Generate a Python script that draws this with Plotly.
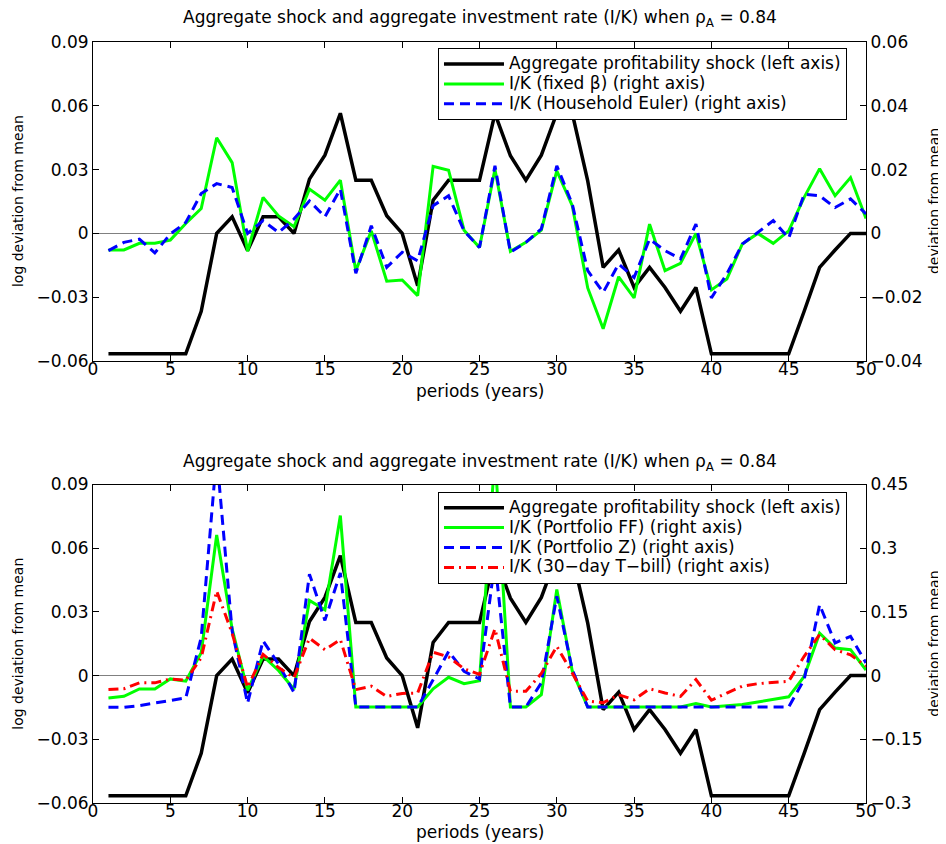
import plotly.graph_objects as go

periods = list(range(1, 51))

# Aggregate profitability shock (left axis) - same in both panels
shock = [-0.0566, -0.0566, -0.0566, -0.0566, -0.0566, -0.0566, -0.0366, 0.0, 0.0078, -0.0081,
         0.0078, 0.0078, 0.0, 0.0255, 0.0368, 0.0565, 0.025, 0.025, 0.0083, 0.0,
         -0.0246, 0.0156, 0.025, 0.025, 0.025, 0.0563, 0.0365, 0.025, 0.0368, 0.0565,
         0.0565, 0.0247, -0.016, -0.0078, -0.0254, -0.016, -0.0254, -0.0366, -0.0254, -0.0566,
         -0.0566, -0.0566, -0.0566, -0.0566, -0.0566, -0.0366, -0.016, -0.0078, 0.0, 0.0]

# Top panel, right axis
ik_fixed_beta = [-0.0052, -0.0052, -0.0031, -0.0031, -0.0021, 0.0031, 0.0078, 0.0300, 0.0222, -0.0056,
                 0.0113, 0.0055, 0.0021, 0.0139, 0.0104, 0.0167, -0.0117, 0.0008, -0.0150, -0.0146,
                 -0.0195, 0.0210, 0.0198, 0.0010, -0.0044, 0.0201, -0.0056, -0.0028, 0.0010, 0.0196,
                 0.0087, -0.0171, -0.0299, -0.0136, -0.0202, 0.0029, -0.0117, -0.0094, 0.0000, -0.0177,
                 -0.0143, -0.0033, 0.0000, -0.0031, 0.0008, 0.0113, 0.0203, 0.0118, 0.0175, 0.0047]
ik_household_euler = [-0.0054, -0.0028, -0.0018, -0.0061, -0.0002, 0.0034, 0.0125, 0.0156, 0.0144, 0.0000,
                      0.0040, 0.0003, 0.0045, 0.0102, 0.0052, 0.0139, -0.0125, 0.0024, -0.0106, -0.0059,
                      -0.0086, 0.0087, 0.0118, 0.0008, -0.0044, 0.0212, -0.0059, -0.0028, 0.0014, 0.0212,
                      0.0092, -0.0117, -0.0185, -0.0096, -0.0138, -0.0018, -0.0054, -0.0080, 0.0029, -0.0202,
                      -0.0127, -0.0033, 0.0003, 0.0040, -0.0015, 0.0123, 0.0118, 0.0081, 0.0108, 0.0061]

# Bottom panel, right axis
ik_portfolio_ff = [-0.0526, -0.0487, -0.0314, -0.0314, -0.0078, -0.013, 0.054, 0.331, 0.11, -0.035,
                   0.046, 0.012, -0.032, 0.177, 0.155, 0.377, -0.074, -0.074, -0.074, -0.074,
                   -0.074, -0.031, -0.004, -0.019, -0.012, 0.52, -0.074, -0.074, -0.045, 0.203,
                   0.011, -0.074, -0.074, -0.074, -0.074, -0.074, -0.074, -0.074, -0.066, -0.074,
                   -0.071, -0.068, -0.062, -0.056, -0.05, -0.002, 0.10, 0.065, 0.061, 0.013]
ik_portfolio_z = [-0.0746, -0.0746, -0.0706, -0.0644, -0.0589, -0.0526, 0.09, 0.52, 0.105, -0.065,
                  0.082, 0.027, -0.04, 0.239, 0.13, 0.242, -0.074, -0.074, -0.074, -0.074,
                  -0.074, -0.01, 0.057, 0.01, -0.008, 0.27, -0.074, -0.074, -0.017, 0.187,
                  0.014, -0.074, -0.074, -0.074, -0.074, -0.074, -0.074, -0.074, -0.074, -0.074,
                  -0.074, -0.074, -0.074, -0.074, -0.074, -0.0094, 0.167, 0.077, 0.0926, 0.03]
ik_tbill = [-0.033, -0.031, -0.017, -0.017, -0.008, -0.011, 0.042, 0.199, 0.1, -0.028,
            0.05, 0.019, -0.005, 0.088, 0.061, 0.085, -0.033, -0.025, -0.049, -0.042,
            -0.041, 0.055, 0.044, 0.016, 0.003, 0.11, -0.037, -0.037, 0.005, 0.069,
            0.006, -0.06, -0.064, -0.045, -0.057, -0.031, -0.041, -0.049, -0.0094, -0.058,
            -0.041, -0.025, -0.019, -0.0157, -0.0133, 0.0455, 0.0965, 0.061, 0.049, 0.022]

x_ticks = list(range(0, 51, 5))
left_ticks = [0.09, 0.06, 0.03, 0, -0.03, -0.06]
left_labels = ["0.09", "0.06", "0.03", "0", "\u22120.03", "\u22120.06"]
right_ticks_top = [0.06, 0.04, 0.02, 0, -0.02, -0.04]
right_labels_top = ["0.06", "0.04", "0.02", "0", "\u22120.02", "\u22120.04"]
right_ticks_bot = [0.45, 0.3, 0.15, 0, -0.15, -0.3]
right_labels_bot = ["0.45", "0.3", "0.15", "0", "\u22120.15", "\u22120.3"]

top_names = ["Aggregate profitability shock (left axis)",
             "I/K (fixed \u03b2) (right axis)",
             "I/K (Household Euler) (right axis)"]
bottom_names = ["Aggregate profitability shock (left axis)",
                "I/K (Portfolio FF) (right axis)",
                "I/K (Portfolio Z) (right axis)",
                "I/K (30\u2212day T\u2212bill) (right axis)"]

title_text = "Aggregate shock and aggregate investment rate (I/K) when \u03c1<sub>A</sub> = 0.84"

FONT = "DejaVu Sans"
BLACK = "#000000"
GREEN = "#00ff00"
BLUE = "#0000ff"
RED = "#ff0000"
LW = 3
DASH = "10px,6px"
DASHDOT = "10px,5px,2px,5px"


def lg(name):
    # legend text drawn at 17px while rows are spaced for a compact box
    return '<span style="font-size:17px">' + name + '</span>'


fig = go.Figure()

# top panel
fig.add_trace(go.Scatter(x=periods, y=shock, mode="lines", name=lg(top_names[0]),
                         line=dict(color=BLACK, width=3.5), xaxis="x", yaxis="y", legend="legend"))
fig.add_trace(go.Scatter(x=periods, y=ik_fixed_beta, mode="lines", name=lg(top_names[1]),
                         line=dict(color=GREEN, width=LW), xaxis="x", yaxis="y2", legend="legend"))
fig.add_trace(go.Scatter(x=periods, y=ik_household_euler, mode="lines", name=lg(top_names[2]),
                         line=dict(color=BLUE, width=LW, dash=DASH), xaxis="x", yaxis="y2", legend="legend"))

# bottom panel
fig.add_trace(go.Scatter(x=periods, y=shock, mode="lines", name=lg(bottom_names[0]),
                         line=dict(color=BLACK, width=3.5), xaxis="x2", yaxis="y3", legend="legend2"))
fig.add_trace(go.Scatter(x=periods, y=ik_portfolio_ff, mode="lines", name=lg(bottom_names[1]),
                         line=dict(color=GREEN, width=LW), xaxis="x2", yaxis="y4", legend="legend2"))
fig.add_trace(go.Scatter(x=periods, y=ik_portfolio_z, mode="lines", name=lg(bottom_names[2]),
                         line=dict(color=BLUE, width=LW, dash=DASH), xaxis="x2", yaxis="y4", legend="legend2"))
fig.add_trace(go.Scatter(x=periods, y=ik_tbill, mode="lines", name=lg(bottom_names[3]),
                         line=dict(color=RED, width=LW, dash=DASHDOT), xaxis="x2", yaxis="y4", legend="legend2"))

TOP_DOM = [0.5808, 1.0]
BOT_DOM = [0.0, 0.4185]
tickfont = dict(family=FONT, size=17, color="black")

xcommon = dict(range=[0, 50], tickvals=x_ticks, ticks="inside", ticklen=6, tickcolor="black",
               showline=True, linecolor="black", linewidth=1, mirror="ticks", showgrid=False,
               zeroline=False, tickfont=tickfont, ticklabelstandoff=-7)
ycommon = dict(ticks="inside", ticklen=6, tickcolor="black", showline=True, linecolor="black",
               linewidth=1, showgrid=False, tickfont=tickfont)

legend_common = dict(bgcolor="white", bordercolor="black", borderwidth=1,
                     font=dict(family=FONT, size=13, color="black"),
                     xanchor="left", yanchor="top", tracegroupgap=0, itemwidth=60)

fig.update_layout(
    width=938, height=844,
    margin=dict(l=85, r=80, t=34, b=49),
    paper_bgcolor="white", plot_bgcolor="white",
    showlegend=True,
    xaxis=dict(domain=[0, 1], anchor="y", **xcommon),
    yaxis=dict(domain=TOP_DOM, anchor="x", range=[-0.06, 0.09], tickvals=left_ticks, ticktext=left_labels,
               zeroline=True, zerolinecolor="#808080", zerolinewidth=1, **ycommon),
    yaxis2=dict(overlaying="y", side="right", anchor="x", range=[-0.04, 0.06], tickvals=right_ticks_top,
                ticktext=right_labels_top, zeroline=False, **ycommon),
    xaxis2=dict(domain=[0, 1], anchor="y3", **xcommon),
    yaxis3=dict(domain=BOT_DOM, anchor="x2", range=[-0.06, 0.09], tickvals=left_ticks, ticktext=left_labels,
                zeroline=True, zerolinecolor="#808080", zerolinewidth=1, **ycommon),
    yaxis4=dict(overlaying="y3", side="right", anchor="x2", range=[-0.3, 0.45], tickvals=right_ticks_bot,
                ticktext=right_labels_bot, zeroline=False, **ycommon),
    legend=dict(x=0.4463, y=0.992, **legend_common),
    legend2=dict(x=0.4463, y=0.409, **legend_common),
)

hfont = dict(family=FONT, size=17, color="black")
vfont = dict(family=FONT, size=14, color="black")
ann = [
    dict(text=title_text, x=0.5, y=1.0315, xref="paper", yref="paper", showarrow=False,
         xanchor="center", yanchor="middle", font=hfont),
    dict(text=title_text, x=0.5, y=0.448, xref="paper", yref="paper", showarrow=False,
         xanchor="center", yanchor="middle", font=hfont),
    dict(text="periods (years)", x=0.5, y=0.5414, xref="paper", yref="paper", showarrow=False,
         xanchor="center", yanchor="middle", font=hfont),
    dict(text="periods (years)", x=0.5, y=-0.0381, xref="paper", yref="paper", showarrow=False,
         xanchor="center", yanchor="middle", font=hfont),
    dict(text="log deviation from mean", x=-0.097, y=0.791, xref="paper", yref="paper", showarrow=False,
         xanchor="center", yanchor="middle", textangle=-90, font=vfont),
    dict(text="log deviation from mean", x=-0.097, y=0.2093, xref="paper", yref="paper", showarrow=False,
         xanchor="center", yanchor="middle", textangle=-90, font=vfont),
    dict(text="deviation from mean", x=1.088, y=0.791, xref="paper", yref="paper", showarrow=False,
         xanchor="center", yanchor="middle", textangle=-90, font=vfont),
    dict(text="deviation from mean", x=1.088, y=0.2093, xref="paper", yref="paper", showarrow=False,
         xanchor="center", yanchor="middle", textangle=-90, font=vfont),
]
fig.update_layout(annotations=ann)

fig.write_html("out.html")
